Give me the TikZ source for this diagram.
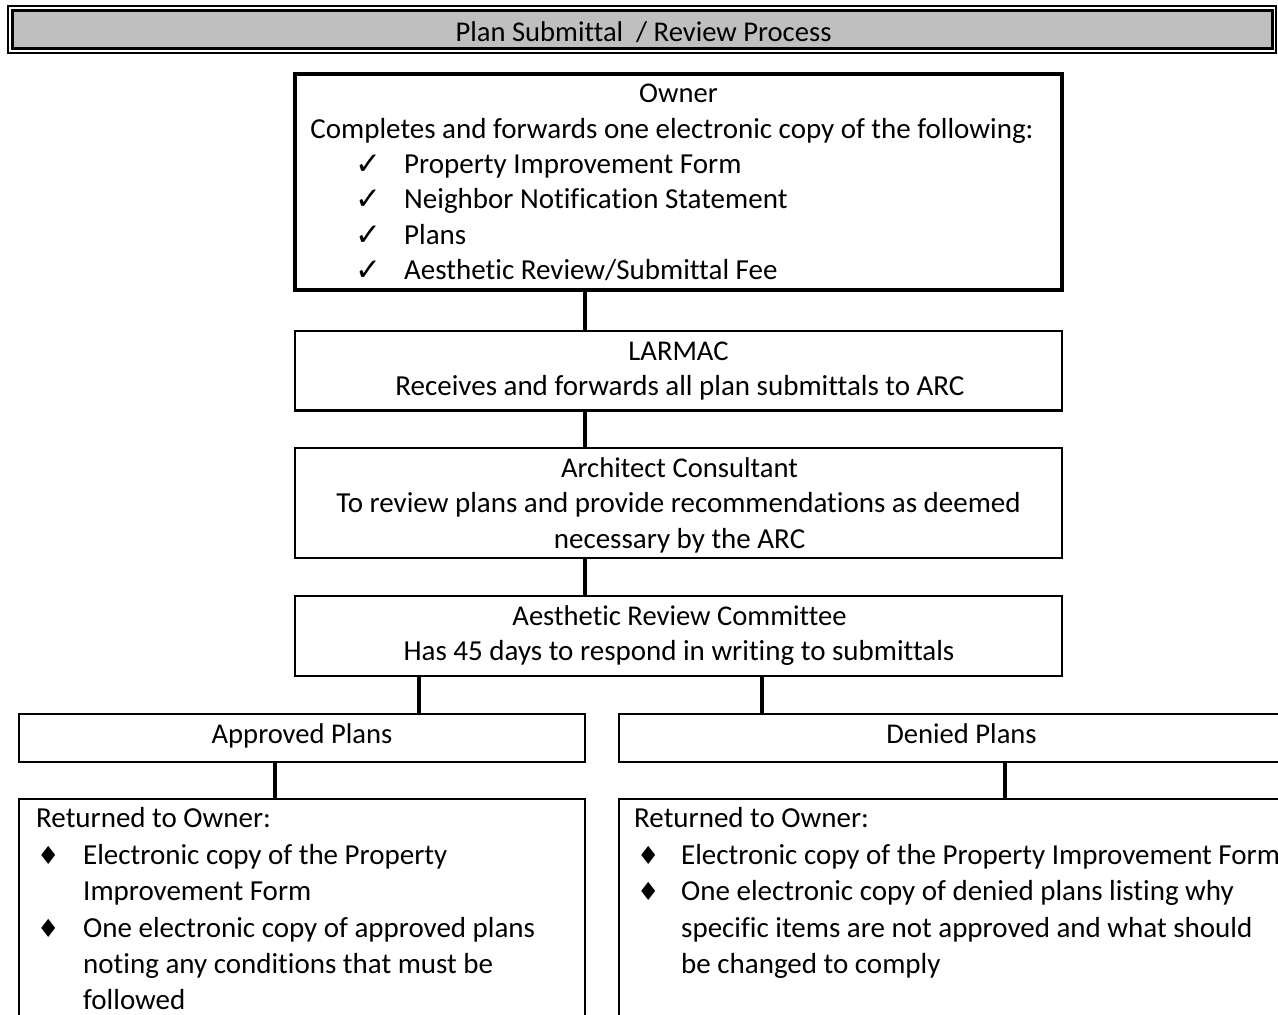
\documentclass[tikz,border=0pt]{standalone}
\usepackage{fontspec}
\setmainfont{Carlito}[Ligatures={NoCommon,NoContextual}]
\newfontfamily\symfont{DejaVu Sans}
\definecolor{titlegray}{RGB}{191,191,191}
\begin{document}
\begin{tikzpicture}[x=1pt,y=-1pt,
  boxthin/.style={draw, line width=2.5pt, inner sep=0pt},
  boxthick/.style={draw, line width=4pt, inner sep=0pt},
  conn/.style={line width=4pt},
  head/.style={font=\fontsize{28.6}{32}\selectfont, anchor=base, inner sep=0pt},
  body/.style={font=\fontsize{29}{32}\selectfont, anchor=base, inner sep=0pt},
  bodyl/.style={font=\fontsize{29}{32}\selectfont, anchor=base west, inner sep=0pt},
  checkmk/.style={font=\symfont\fontsize{31}{34}\selectfont, anchor=base west, inner sep=0pt},
  dia/.style={font=\symfont\fontsize{25}{28}\selectfont, anchor=base west, inner sep=0pt}
]
\useasboundingbox (0,0) rectangle (1278,1015);
\clip (0,0) rectangle (1278,1015);

% title bar
\node[draw, line width=2pt, inner sep=0pt, minimum width=1268pt, minimum height=47pt] (titleouter) at (642,29.5) {};
\node[draw, line width=3pt, fill=titlegray, inner sep=0pt, minimum width=1259.5pt, minimum height=38pt] (titleinner) at (642.25,29.5) {};
\node[head] (title) at (643.5,41) {Plan Submittal~ / Review Process};

% boxes
\node[boxthick, minimum width=767pt, minimum height=216pt] (owner) at (678.5,182) {};
\node[boxthin, minimum width=767pt, minimum height=79.5pt] (larmac) at (678.5,370.75) {};
\node[boxthin, minimum width=767pt, minimum height=110pt] (arch) at (678.5,503) {};
\node[boxthin, minimum width=767pt, minimum height=80pt] (arc) at (678.5,636) {};
\node[boxthin, minimum width=566pt, minimum height=48pt] (approved) at (302,738) {};
\node[boxthin, minimum width=685pt, minimum height=48pt] (denied) at (961.5,738) {};
\node[boxthin, minimum width=566pt, minimum height=241pt] (appret) at (302,919.5) {};
\node[boxthin, minimum width=685pt, minimum height=241pt] (denret) at (961.5,919.5) {};

% owner text
\node[head] (ownerh) at (678.5,102) {Owner};
\node[body] (owner1) at (672,138) {Completes and forwards one electronic copy of the following:};
\node[checkmk] (c1) at (355,174) {✓};
\node[bodyl] (o1) at (404,173) {Property Improvement Form};
\node[checkmk] (c2) at (355,209.5) {✓};
\node[bodyl] (o2) at (404,208.5) {Neighbor Notification Statement};
\node[checkmk] (c3) at (355,245) {✓};
\node[bodyl] (o3) at (404,244) {Plans};
\node[checkmk] (c4) at (355,280.5) {✓};
\node[bodyl] (o4) at (404,279.5) {Aesthetic Review/Submittal Fee};

% LARMAC
\node[head] (larmach) at (678.5,360) {LARMAC};
\node[body] (larmac1) at (680,395) {Receives and forwards all plan submittals to ARC};

% Architect
\node[head] (archh) at (679.5,477) {Architect Consultant};
\node[body] (archl1) at (678.5,512) {To review plans and provide recommendations as deemed};
\node[body] (archl2) at (679.5,548) {necessary by the ARC};

% ARC
\node[head] (arch2) at (679.5,625) {Aesthetic Review Committee};
\node[body] (arcl1) at (679,660) {Has 45 days to respond in writing to submittals};

% approved / denied
\node[head] (apph) at (302,743) {Approved Plans};
\node[head] (denh) at (961.5,743) {Denied Plans};

% returned (approved)
\node[bodyl] (ar0) at (36,827) {Returned to Owner:};
\node[dia] (ad1) at (37,864) {♦};
\node[bodyl] (ar1) at (83,864) {Electronic copy of the Property};
\node[bodyl] (ar2) at (83,900) {Improvement Form};
\node[dia] (ad2) at (37,937) {♦};
\node[bodyl] (ar3) at (83,937) {One electronic copy of approved plans};
\node[bodyl] (ar4) at (83,973) {noting any conditions that must be};
\node[bodyl] (ar5) at (83,1009) {followed};

% returned (denied)
\node[bodyl] (dr0) at (634,827) {Returned to Owner:};
\node[dia] (dd1) at (637,864) {♦};
\node[bodyl] (dr1) at (681,864) {Electronic copy of the Property Improvement Form};
\node[dia] (dd2) at (637,900) {♦};
\node[bodyl] (dr2) at (681,900) {One electronic copy of denied plans listing why};
\node[bodyl] (dr3) at (681,937) {specific items are not approved and what should};
\node[bodyl] (dr4) at (681,973) {be changed to comply};

% connectors
\draw[conn] ([xshift=292pt]owner.south west) -- ([xshift=292pt]owner.south west |- larmac.north);
\draw[conn] ([xshift=291.25pt]larmac.south west) -- ([xshift=291.25pt]larmac.south west |- arch.north);
\draw[conn] ([xshift=291.25pt]arch.south west) -- ([xshift=291.25pt]arch.south west |- arc.north);
\draw[conn] ([xshift=125.25pt]arc.south west) -- ([xshift=125.25pt]arc.south west |- approved.north);
\draw[conn] ([xshift=468.25pt]arc.south west) -- ([xshift=468.25pt]arc.south west |- denied.north);
\draw[conn] ([xshift=257.25pt]approved.south west) -- ([xshift=257.25pt]approved.south west |- appret.north);
\draw[conn] ([xshift=387.25pt]denied.south west) -- ([xshift=387.25pt]denied.south west |- denret.north);
\end{tikzpicture}
\end{document}
